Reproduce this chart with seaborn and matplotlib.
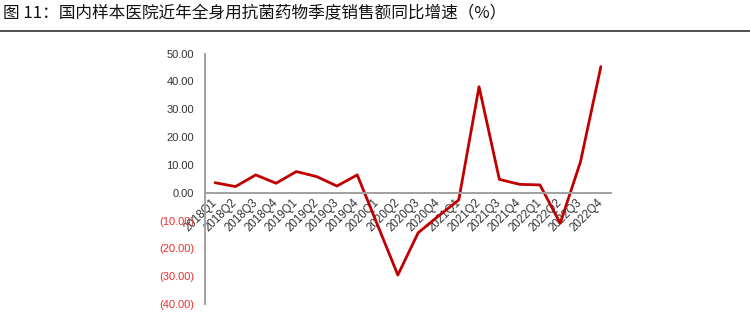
import matplotlib
matplotlib.use("Agg")
import matplotlib.pyplot as plt
from matplotlib.ticker import FixedLocator, FuncFormatter
import seaborn as sns
import pandas as pd

quarters = ["2018Q1", "2018Q2", "2018Q3", "2018Q4",
            "2019Q1", "2019Q2", "2019Q3", "2019Q4",
            "2020Q1", "2020Q2", "2020Q3", "2020Q4",
            "2021Q1", "2021Q2", "2021Q3", "2021Q4",
            "2022Q1", "2022Q2", "2022Q3", "2022Q4"]
growth = [3.6, 2.2, 6.4, 3.4,
          7.6, 5.8, 2.4, 6.4,
          -11.6, -29.6, -14.4, -8.4,
          -2.6, 38.1, 4.8, 3.0,
          2.8, -11.0, 11.2, 45.3]
y_ticks = [50, 40, 30, 20, 10, 0, -10, -20, -30, -40]
title = "图 11：国内样本医院近年全身用抗菌药物季度销售额同比增速（%）"

sns.set_style("white")
plt.rcParams["font.family"] = ["Liberation Sans", "DejaVu Sans"]

df = pd.DataFrame({"idx": range(len(quarters)), "quarter": quarters, "growth": growth})

fig = plt.figure(figsize=(7.5, 3.3), dpi=100)
ax = fig.add_axes([205 / 750, 26 / 330, (611 - 205) / 750, (276.4 - 26) / 330])

sns.lineplot(data=df, x="idx", y="growth", ax=ax, color="#C00000", linewidth=2.0)

ax.set_xlim(-0.5, len(quarters) - 0.5)
ax.set_ylim(-40, 50)
ax.set_xlabel("")
ax.set_ylabel("")

for s in ["top", "right"]:
    ax.spines[s].set_visible(False)
ax.spines["bottom"].set_position(("data", 0))
for s in ["left", "bottom"]:
    ax.spines[s].set_color("#A0A0A0")
    ax.spines[s].set_linewidth(1.4)

# y axis
ax.yaxis.set_major_locator(FixedLocator(y_ticks))
ax.yaxis.set_major_formatter(FuncFormatter(lambda v, p: f"{v:.2f}" if v >= 0 else f"({abs(v):.2f})"))
ax.tick_params(axis="y", direction="in", length=4, width=1, color="#808080",
               labelsize=8, pad=8)
for lab, v in zip(ax.get_yticklabels(), y_ticks):
    lab.set_color("#333333" if v >= 0 else "#E8302E")

# x axis
ax.set_xticks(range(len(quarters)))
ax.set_xticklabels(quarters, rotation=45, ha="right", va="center",
                   rotation_mode="anchor", fontsize=8.3, color="#333333")
ax.set_xticks([i - 0.5 for i in range(len(quarters) + 1)], minor=True)
ax.tick_params(axis="x", which="major", length=0, pad=6)
ax.tick_params(axis="x", which="minor", direction="out", length=4, width=1, color="#808080")
ax.grid(False)

fig.text(3 / 750, 1 - 14 / 330, title, fontsize=12, va="center", ha="left",
         family=["Noto Sans CJK SC", "DejaVu Sans"], color="#111111")
fig.add_artist(plt.Line2D([0, 1], [1 - 31 / 330, 1 - 31 / 330], color="#333333", linewidth=1.2))

fig.savefig("out.png", dpi=100)
